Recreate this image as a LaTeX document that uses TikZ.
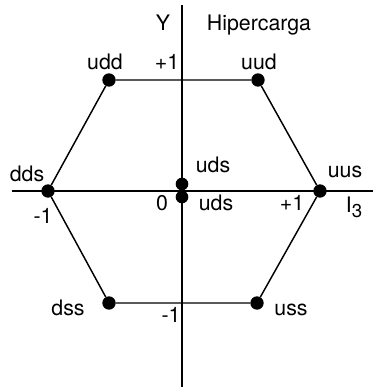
\documentclass[tikz,border=0pt]{standalone}
\usepackage{fontspec}
\setmainfont{TeX Gyre Heros}
\begin{document}
\begin{tikzpicture} [x = 0.75pt, y = 0.75pt, font = \fontsize{16}{19}\selectfont,
	dot/.style = {circle, fill = black, inner sep = 0pt, minimum size = 10pt},
	lab/.style = {anchor = base, inner sep = 0pt}]
	\useasboundingbox (-182,-196) rectangle (191,191);
	% axes
	\coordinate (ytop) at (0,186);
	\coordinate (ybot) at (0,-196);
	\coordinate (xleft) at (-170,0);
	\coordinate (xright) at (191,0);
	\draw [line width = 1.3pt] (ybot) -- (ytop);
	\draw [line width = 1.3pt] (xleft) -- (xright);
	% hexagon
	\node [dot] (udd) at (-73,111) {};
	\node [dot] (uud) at (76,111) {};
	\node [dot] (dds) at (-134,0) {};
	\node [dot] (uus) at (138,0) {};
	\node [dot] (dss) at (-73,-112) {};
	\node [dot] (uss) at (75,-112) {};
	\node [dot, minimum size = 9.5pt] (uds1) at (0,7) {};
	\node [dot, minimum size = 9.5pt] (uds2) at (0,-6) {};
	\draw [line width = 1.1pt] (udd) -- (uud) -- (uus) -- (uss) -- (dss) -- (dds) -- (udd);
	% labels
	\node [lab] (Y) at (-19,161) {Y};
	\node [lab] (hiper) at (77,161) {Hipercarga};
	\node [lab] (ludd) at (-77,122) {udd};
	\node [lab] (yplus) at (-15,122) {+1};
	\node [lab] (luud) at (77,122) {uud};
	\node [lab] (ldds) at (-155,10) {dds};
	\node [lab] (xminus) at (-139,-32) {-1};
	\node [lab] (luds1) at (31,19) {uds};
	\node [lab] (zero) at (-20,-19) {0};
	\node [lab] (luds2) at (34,-19) {uds};
	\node [lab] (xplus) at (110,-19) {+1};
	\node [lab] (luus) at (163,14) {uus};
	\node [lab] (I3) at (172,-21) {I\raisebox{-4pt}{\fontsize{14}{16}\selectfont 3}};
	\node [lab] (ldss) at (-114,-124) {dss};
	\node [lab] (yminus) at (-11,-131) {-1};
	\node [lab] (luss) at (109,-124) {uss};
\end{tikzpicture}
\end{document}
